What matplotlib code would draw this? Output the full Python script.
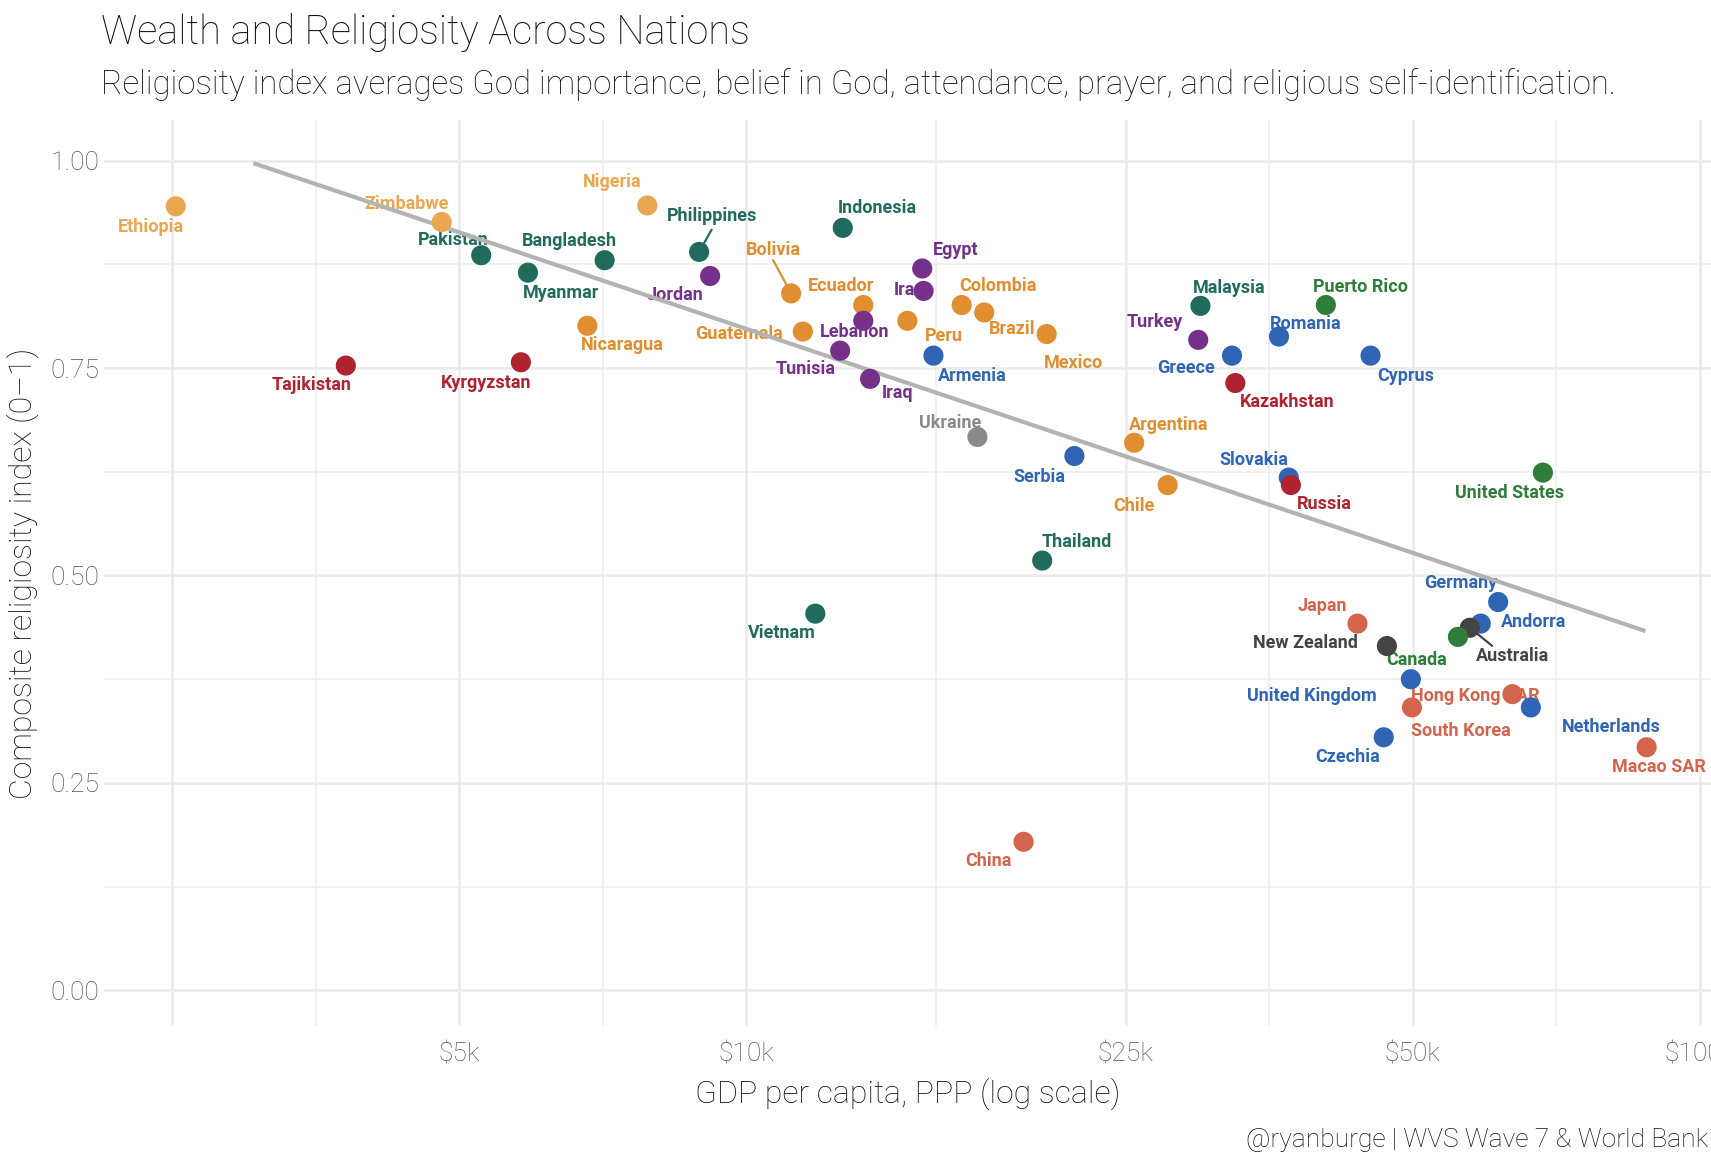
import numpy as np
import matplotlib
matplotlib.use('Agg')
import matplotlib.pyplot as plt

# data
countries = ['Ethiopia', 'Zimbabwe', 'Nigeria', 'Pakistan', 'Myanmar', 'Bangladesh',
             'Philippines', 'Jordan', 'Indonesia', 'Nicaragua', 'Tajikistan', 'Kyrgyzstan',
             'Bolivia', 'Ecuador', 'Lebanon', 'Guatemala', 'Tunisia', 'Iraq', 'Peru',
             'Egypt', 'Iran', 'Armenia', 'Colombia', 'Brazil', 'Mexico', 'Ukraine',
             'Serbia', 'Argentina', 'Chile', 'Thailand', 'Vietnam', 'China',
             'Malaysia', 'Puerto Rico', 'Turkey', 'Romania', 'Greece', 'Cyprus',
             'Kazakhstan', 'Slovakia', 'Russia', 'United States', 'Germany', 'Japan',
             'Andorra', 'Australia', 'Canada', 'New Zealand', 'United Kingdom',
             'Hong Kong SAR', 'South Korea', 'Netherlands', 'Czechia', 'Macao SAR']

gdp = [2520, 4790, 7870, 5270, 5900, 7100,
       8920, 9160, 12620, 6810, 3800, 5800,
       11140, 13260, 13260, 11460, 12540, 13480, 14750,
       15290, 15340, 15710, 16820, 17760, 20650, 17470,
       22080, 25510, 27660, 20430, 11810, 19530,
       29940, 40530, 29780, 36190, 32310, 45150,
       32570, 37060, 37250, 68460, 61450, 43750,
       58920, 57390, 55760, 46970, 49770,
       63600, 49900, 66500, 46610, 87950]

religiosity = [0.945, 0.926, 0.946, 0.886, 0.865, 0.880,
               0.890, 0.861, 0.919, 0.801, 0.753, 0.757,
               0.840, 0.826, 0.807, 0.794, 0.771, 0.737, 0.807,
               0.870, 0.843, 0.765, 0.826, 0.817, 0.791, 0.667,
               0.644, 0.660, 0.609, 0.518, 0.454, 0.179,
               0.825, 0.826, 0.784, 0.788, 0.765, 0.765,
               0.732, 0.618, 0.609, 0.624, 0.468, 0.442,
               0.442, 0.437, 0.426, 0.415, 0.375,
               0.357, 0.341, 0.341, 0.305, 0.293]

region = ['Africa', 'Africa', 'Africa', 'Asia', 'Asia', 'Asia',
          'Asia', 'MENA', 'Asia', 'LatAm', 'CentralAsia', 'CentralAsia',
          'LatAm', 'LatAm', 'MENA', 'LatAm', 'MENA', 'MENA', 'LatAm',
          'MENA', 'MENA', 'Europe', 'LatAm', 'LatAm', 'LatAm', 'Ukraine',
          'Europe', 'LatAm', 'LatAm', 'Asia', 'Asia', 'EastAsia',
          'Asia', 'NorthAmerica', 'MENA', 'Europe', 'Europe', 'Europe',
          'CentralAsia', 'Europe', 'CentralAsia', 'NorthAmerica', 'Europe', 'EastAsia',
          'Europe', 'Oceania', 'NorthAmerica', 'Oceania', 'Europe',
          'EastAsia', 'EastAsia', 'Europe', 'Europe', 'EastAsia']

# fitted line end points as drawn
trend_gdp = [3040, 87700]
trend_rel = [0.997, 0.433]

region_colors = {
    'Africa': '#EAA752', 'LatAm': '#E08E2F', 'MENA': '#75308A',
    'Asia': '#216B5D', 'Europe': '#2F65B4', 'CentralAsia': '#AE2330',
    'EastAsia': '#D4644C', 'NorthAmerica': '#2E7D38', 'Oceania': '#444444',
    'Ukraine': '#8A8A8A',
}

# label offsets in points (dx, dy)
label_offsets = {
    'Ethiopia': (-18, -15), 'Zimbabwe': (-25, 13), 'Nigeria': (-25, 17),
    'Pakistan': (-20, 11), 'Bangladesh': (-25, 14), 'Myanmar': (24, -15),
    'Philippines': (9, 26), 'Jordan': (-25, -14), 'Indonesia': (25, 14),
    'Bolivia': (-13, 31), 'Ecuador': (-16, 14), 'Nicaragua': (25, -14),
    'Guatemala': (-46, -2), 'Lebanon': (-6, -8), 'Tunisia': (-25, -13),
    'Iraq': (20, -10), 'Iran': (-10, 1), 'Peru': (26, -11), 'Egypt': (24, 13),
    'Colombia': (26, 14), 'Brazil': (20, -12), 'Mexico': (19, -21),
    'Armenia': (28, -15), 'Ukraine': (-20, 10), 'Serbia': (-25, -15),
    'Argentina': (25, 13), 'Chile': (-24, -15), 'Thailand': (25, 13),
    'Vietnam': (-24, -14), 'China': (-25, -14), 'Tajikistan': (-25, -14),
    'Kyrgyzstan': (-25, -15), 'Malaysia': (21, 13), 'Puerto Rico': (25, 13),
    'Turkey': (-31, 13), 'Romania': (19, 9), 'Greece': (-33, -9),
    'Kazakhstan': (37, -14), 'Cyprus': (25, -15), 'Slovakia': (-25, 13),
    'Russia': (24, -14), 'United States': (-24, -15), 'Germany': (-27, 14),
    'Japan': (-25, 13), 'Andorra': (38, 1), 'New Zealand': (-59, 2),
    'Canada': (-30, -17), 'Australia': (31, -20), 'United Kingdom': (-71, -12),
    'Hong Kong SAR': (-27, -1), 'South Korea': (35, -17), 'Netherlands': (58, -14),
    'Czechia': (-26, -14), 'Macao SAR': (9, -14),
}
leaders = {'Philippines': (9, 16), 'Bolivia': (-13, 24), 'Australia': (16, -13)}

plt.rcParams['font.family'] = ['Roboto', 'DejaVu Sans']

fig = plt.figure(figsize=(17.11, 11.70), dpi=100)
ax = fig.add_axes([104 / 1711, 144 / 1170, 1 - 104 / 1711, 906 / 1170])

ax.set_xscale('log')
ax.set_xlim(2119, 102750)
ax.set_ylim(-0.043, 1.049)

major_x = [2500, 5000, 10000, 25000, 50000, 100000]
ax.set_xticks(major_x)
ax.set_xticklabels(['', '$5k', '$10k', '$25k', '$50k', '$100k'])
ax.set_xticks([np.sqrt(a * b) for a, b in zip(major_x[:-1], major_x[1:])], minor=True)
ax.set_xticklabels([], minor=True)
ax.set_yticks([0, 0.25, 0.5, 0.75, 1.0])
ax.set_yticklabels(['0.00', '0.25', '0.50', '0.75', '1.00'])
ax.set_yticks([0.125, 0.375, 0.625, 0.875], minor=True)
ax.set_yticklabels([], minor=True)
ax.tick_params(which='both', length=0)
ax.tick_params(axis='both', labelsize=19, labelcolor='#555555')
ax.tick_params(axis='x', pad=12)
for lab in ax.get_xticklabels() + ax.get_yticklabels():
    lab.set_fontweight('light')
ax.grid(which='major', color='#EBEBEB', lw=1.8)
ax.grid(which='minor', color='#EEEEEE', lw=1.1)
ax.set_axisbelow(True)
for s in ax.spines.values():
    s.set_visible(False)

ax.plot(trend_gdp, trend_rel, color='#B3B3B3', lw=3, zorder=3, solid_capstyle='butt')

cols = [region_colors[r] for r in region]
ax.scatter(gdp, religiosity, s=210, c=cols, zorder=4, linewidths=0)

for name, x, y, c in zip(countries, gdp, religiosity, cols):
    dx, dy = label_offsets[name]
    ax.annotate(name, (x, y), xytext=(dx, dy), textcoords='offset points',
                ha='center', va='center', fontsize=13, fontweight='bold',
                color=c, zorder=2, annotation_clip=False)
    if name in leaders:
        lx, ly = leaders[name]
        ax.annotate('', (x, y), xytext=(lx, ly), textcoords='offset points',
                    arrowprops=dict(arrowstyle='-', color=c, lw=1.6,
                                    shrinkA=0, shrinkB=0), zorder=3)

ax.set_xlabel('GDP per capita, PPP (log scale)', fontsize=23, labelpad=8,
              fontweight='light', color='#111111')
ax.set_ylabel('Composite religiosity index (0–1)', fontsize=23, labelpad=8,
              fontweight='light', color='#111111')

fig.text(101 / 1711, 1 - 33 / 1170, 'Wealth and Religiosity Across Nations',
         fontsize=28.7, va='center', ha='left', fontweight='light', color='#111111')
fig.text(101 / 1711, 1 - 85 / 1170,
         'Religiosity index averages God importance, belief in God, attendance, prayer, and religious self-identification.',
         fontsize=23.7, va='center', ha='left', fontweight='light', color='#111111')
fig.text(1 - 3 / 1711, 1 - 1140 / 1170, '@ryanburge | WVS Wave 7 & World Bank',
         fontsize=19, va='center', ha='right', fontweight='light', color='#111111')

fig.savefig('out.png', dpi=100)
